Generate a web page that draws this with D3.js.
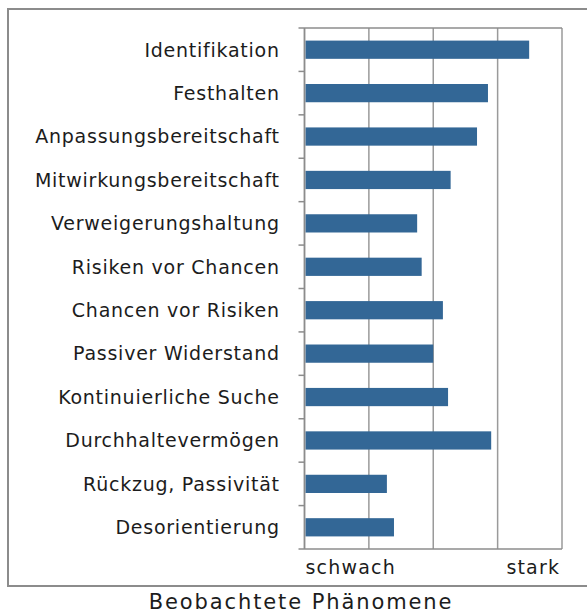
<!DOCTYPE html>
<html>
<head>
<meta charset="utf-8">
<script src="https://cdn.jsdelivr.net/npm/d3@7"></script>
<style>
  html, body { margin: 0; padding: 0; background: #fff; }
  svg { display: block; }
  text { font-family: "DejaVu Sans", sans-serif; fill: #1c1c1c; }
</style>
</head>
<body>
<svg id="chart" width="587" height="614"></svg>
<script>
// ── Data ──────────────────────────────────────────────────────────────────
var categories = [
  'Identifikation', 'Festhalten', 'Anpassungsbereitschaft', 'Mitwirkungsbereitschaft',
  'Verweigerungshaltung', 'Risiken vor Chancen', 'Chancen vor Risiken', 'Passiver Widerstand',
  'Kontinuierliche Suche', 'Durchhaltevermögen', 'Rückzug, Passivität', 'Desorientierung'
];
var values = [3.49, 2.85, 2.68, 2.27, 1.75, 1.82, 2.15, 2.00, 2.23, 2.90, 1.28, 1.39];
var gridTicks = [0, 1, 2, 3, 4];
var axisLabels = [{ v: 0, text: 'schwach', anchor: 'start' }, { v: 4, text: 'stark', anchor: 'end' }];
var title = 'Beobachtete Phänomene';

// ── Layout ────────────────────────────────────────────────────────────────
var svg = d3.select('#chart');
var plot = { left: 304.5, right: 562, top: 28, bottom: 549 };
var gray = '#8c8c8c';
var labelSpacing = 0.75;

var x = d3.scaleLinear().domain([0, 4]).range([plot.left, plot.right]);
var y = d3.scaleBand().domain(categories).range([plot.top, plot.bottom]).paddingInner(0.58).paddingOuter(0.29);
var yOuter = d3.scaleBand().domain(categories).range([plot.top, plot.bottom]);

// outer frame (right edge clipped by the window)
svg.append('rect')
  .attr('x', 8).attr('y', 9).attr('width', 600).attr('height', 577)
  .attr('fill', 'none').attr('stroke', gray).attr('stroke-width', 2);

// gridlines
svg.append('g').selectAll('line').data(gridTicks).join('line')
  .attr('x1', function (d) { return x(d); }).attr('x2', function (d) { return x(d); })
  .attr('y1', plot.top).attr('y2', plot.bottom)
  .attr('stroke', '#9a9a9a').attr('stroke-width', 1.5);

// top and bottom borders of plot area
svg.append('g').selectAll('line').data([plot.top, plot.bottom]).join('line')
  .attr('x1', plot.left - 6).attr('x2', plot.right)
  .attr('y1', function (d) { return d; }).attr('y2', function (d) { return d; })
  .attr('stroke', gray).attr('stroke-width', 1.5);

// category ticks
svg.append('g').selectAll('line').data(categories.slice(1)).join('line')
  .attr('x1', plot.left - 6).attr('x2', plot.left)
  .attr('y1', function (d) { return yOuter(d); }).attr('y2', function (d) { return yOuter(d); })
  .attr('stroke', gray).attr('stroke-width', 1.5);

// bars
svg.append('g').selectAll('rect').data(values).join('rect')
  .attr('x', x(0) + 1)
  .attr('y', function (d, i) { return y(categories[i]); })
  .attr('width', function (d) { return x(d) - x(0) - 1; })
  .attr('height', y.bandwidth())
  .attr('fill', '#336796');

// left axis line
svg.append('line')
  .attr('x1', plot.left).attr('x2', plot.left).attr('y1', plot.top).attr('y2', plot.bottom)
  .attr('stroke', gray).attr('stroke-width', 1.5);

// category labels (trailing letter-spacing compensated)
svg.append('g').selectAll('text').data(categories).join('text')
  .attr('x', 279 + labelSpacing)
  .attr('y', function (d) { return yOuter(d) + yOuter.bandwidth() / 2; })
  .attr('dy', '0.36em')
  .attr('text-anchor', 'end')
  .attr('font-size', 19)
  .attr('letter-spacing', labelSpacing)
  .text(function (d) { return d; });

// axis labels
svg.append('g').selectAll('text').data(axisLabels).join('text')
  .attr('x', function (d) { return x(d.v) + (d.anchor === 'start' ? 1 : -3 + 1.2); })
  .attr('y', 574)
  .attr('text-anchor', function (d) { return d.anchor; })
  .attr('font-size', 19)
  .attr('letter-spacing', 1.2)
  .text(function (d) { return d.text; });

// title
svg.append('text')
  .attr('x', 301).attr('y', 609)
  .attr('text-anchor', 'middle')
  .attr('font-size', 21)
  .attr('letter-spacing', 1.9)
  .text(title);
</script>
</body>
</html>
